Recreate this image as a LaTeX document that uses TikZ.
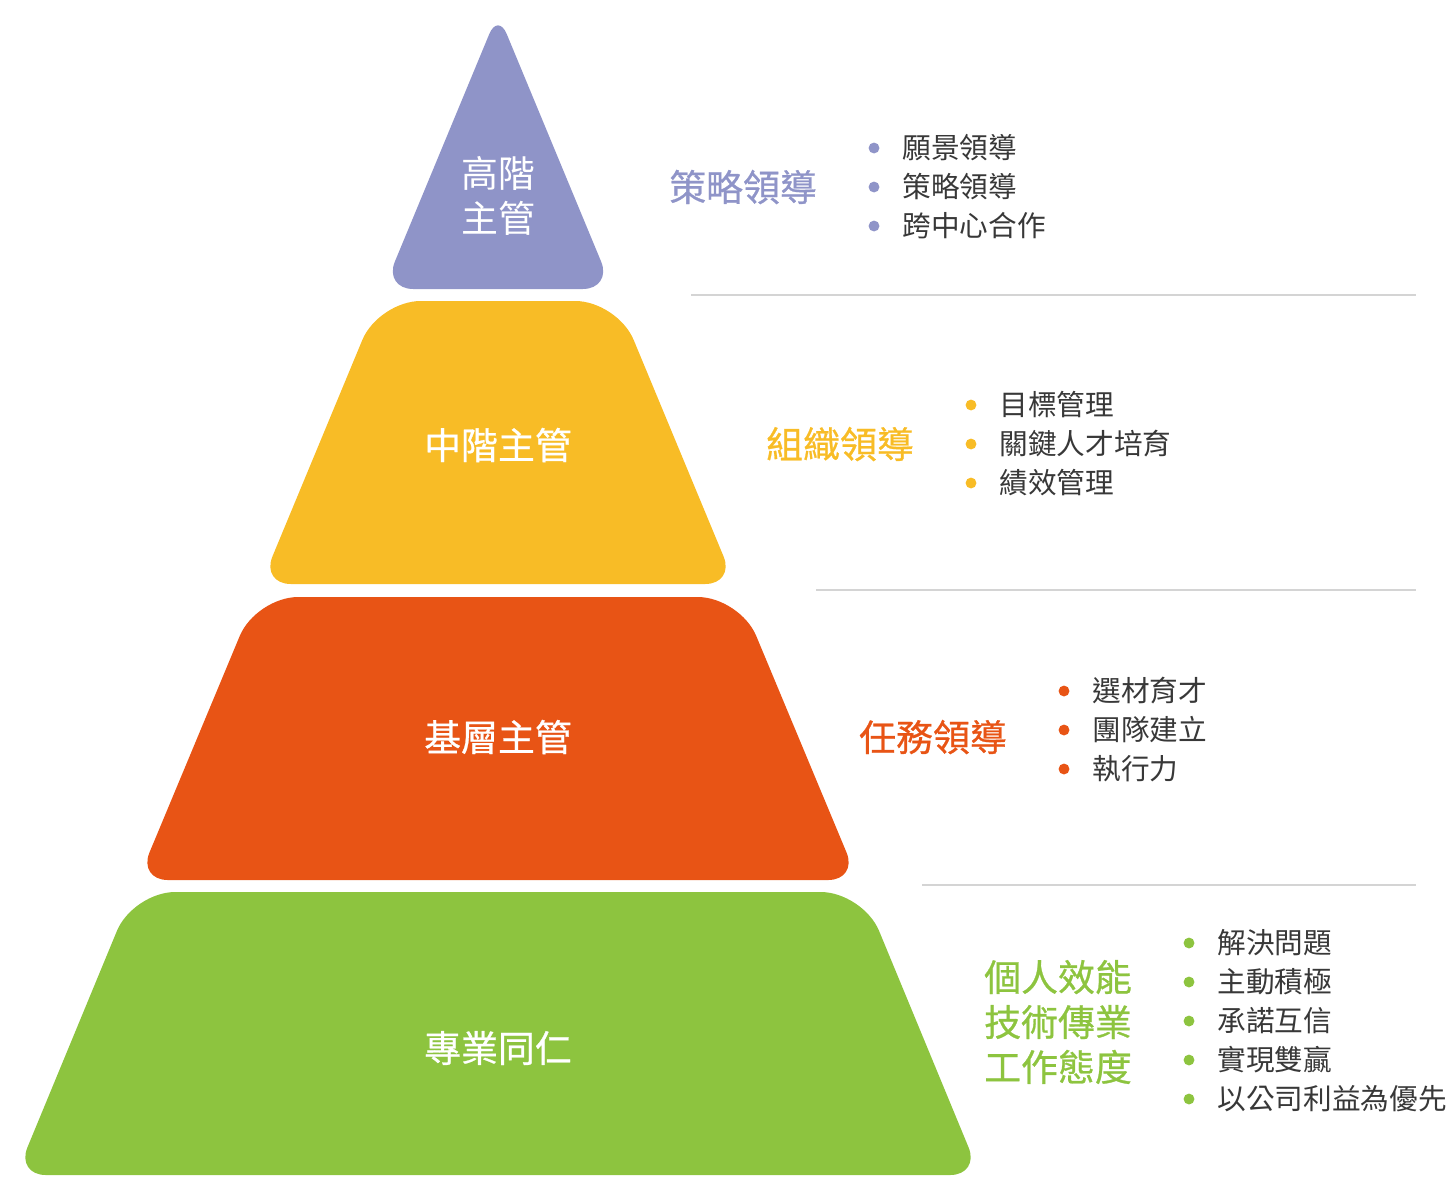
\documentclass[tikz,border=0pt]{standalone}
\usepackage{fontspec}
\setmainfont{Noto Sans CJK TC}
\newfontfamily\medfont[FakeBold=0.7]{Noto Sans CJK TC}
\usetikzlibrary{positioning}

\definecolor{topc}{HTML}{8F94C8}
\definecolor{midc}{HTML}{F8BC26}
\definecolor{lowc}{HTML}{E85415}
\definecolor{basec}{HTML}{8DC43F}
\definecolor{itemc}{HTML}{383838}
\definecolor{sepc}{HTML}{D4D4D4}

\tikzset{
	lvl/.style={text=white, font=\medfont\fontsize{21}{25.6}\selectfont, align=center},
	lead/.style={font=\medfont\fontsize{21}{25.6}\selectfont, align=center},
	item/.style={text=itemc, font=\fontsize{16.3}{22}\selectfont, inner sep=0pt},
	dot/.style={circle, fill=#1, inner sep=0pt, minimum size=6.2pt},
	sep/.style={draw=sepc, line width=0.8pt},
}

\begin{document}
\begin{tikzpicture}[x=0.02cm, y=-0.02cm]
	\useasboundingbox (0,0) rectangle (1453,1181);

	% pyramid
	\fill[topc] (498,289) [rounded corners=17pt] -- (612.5,289) [rounded corners=13pt] -- (498,13) [rounded corners=17pt] -- (383.5,289) -- cycle;
	\fill[midc] (498,584) [rounded corners=17pt] -- (735,584) [rounded corners=24pt] -- (617.5,301) -- (378.5,301) [rounded corners=17pt] -- (261,584) -- cycle;
	\fill[lowc] (498,880) [rounded corners=17pt] -- (858,880) [rounded corners=24pt] -- (740,597) -- (256,597) [rounded corners=17pt] -- (138,880) -- cycle;
	\fill[basec] (498,1175) [rounded corners=17pt] -- (980,1175) [rounded corners=24pt] -- (863,892) -- (133,892) [rounded corners=17pt] -- (16,1175) -- cycle;

	\node[lvl, font=\fontsize{21}{25.6}\selectfont] (top) at (498,196) {高階\\主管};
	\node[lvl] (mid) at (498,445) {中階主管};
	\node[lvl] (low) at (498,737) {基層主管};
	\node[lvl] (base) at (498,1048) {專業同仁};

	% separators
	\draw[sep] (691,295) -- (1416,295);
	\draw[sep] (816,590) -- (1416,590);
	\draw[sep] (922,885) -- (1416,885);

	% leadership labels
	\node[lead, text=topc] (topL) at (743,187) {策略領導};
	\node[lead, text=midc] (midL) at (840,444) {組織領導};
	\node[lead, text=lowc] (lowL) at (933,737) {任務領導};
	\node[lead, text=basec] (baseL) at (1058,1022) {個人效能\\技術傳業\\工作態度};

	% top items
	\node[dot=topc] (t1) at (874,148) {};
	\node[dot=topc] (t2) at (874,187) {};
	\node[dot=topc] (t3) at (874,226) {};
	\node[item, right=0.45cm of t1] {願景領導};
	\node[item, right=0.45cm of t2] {策略領導};
	\node[item, right=0.45cm of t3] {跨中心合作};

	% middle items
	\node[dot=midc] (m1) at (971,405) {};
	\node[dot=midc] (m2) at (971,444) {};
	\node[dot=midc] (m3) at (971,483) {};
	\node[item, right=0.45cm of m1] {目標管理};
	\node[item, right=0.45cm of m2] {關鍵人才培育};
	\node[item, right=0.45cm of m3] {績效管理};

	% low items
	\node[dot=lowc] (l1) at (1064,691) {};
	\node[dot=lowc] (l2) at (1064,730) {};
	\node[dot=lowc] (l3) at (1064,769) {};
	\node[item, right=0.45cm of l1] {選材育才};
	\node[item, right=0.45cm of l2] {團隊建立};
	\node[item, right=0.45cm of l3] {執行力};

	% base items
	\node[dot=basec] (b1) at (1189,943) {};
	\node[dot=basec] (b2) at (1189,982) {};
	\node[dot=basec] (b3) at (1189,1021) {};
	\node[dot=basec] (b4) at (1189,1060) {};
	\node[dot=basec] (b5) at (1189,1099) {};
	\node[item, right=0.45cm of b1] {解決問題};
	\node[item, right=0.45cm of b2] {主動積極};
	\node[item, right=0.45cm of b3] {承諾互信};
	\node[item, right=0.45cm of b4] {實現雙贏};
	\node[item, right=0.45cm of b5] {以公司利益為優先};
\end{tikzpicture}
\end{document}
